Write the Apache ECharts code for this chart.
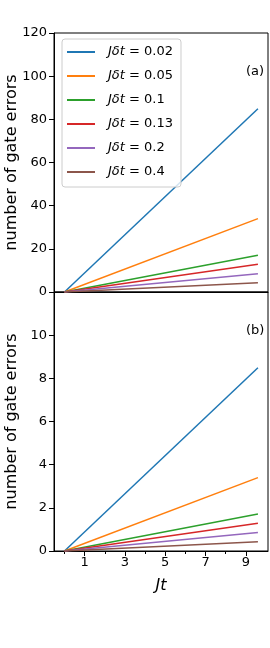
<!DOCTYPE html>
<html><head><meta charset="utf-8">
<script src="https://cdn.jsdelivr.net/npm/echarts@6/dist/echarts.min.js"></script>
<style>html,body{margin:0;padding:0;background:#fff}#c{width:270px;height:648px}</style>
</head><body><div id="c"></div>
<script>
// Data
const jdtLabels = ['0.02', '0.05', '0.1', '0.13', '0.2', '0.4'];
const colors = ['#1f77b4', '#ff7f0e', '#2ca02c', '#d62728', '#9467bd', '#8c564b'];
const xStart = 0;
const xEnd = 9.6;
const topEnd = [84.9, 34.0, 17.0, 12.9, 8.5, 4.3];
const bottomEnd = [8.49, 3.40, 1.71, 1.29, 0.86, 0.43];
const topTicks = [0, 20, 40, 60, 80, 100, 120];
const xMajorTicks = [1, 3, 5, 7, 9];
const xMinorTicks = [0, 2, 4, 6, 8];

const FONT = 'DejaVu Sans';
const chart = echarts.init(document.getElementById('c'), null, {renderer: 'canvas'});

const names = jdtLabels.map(v => 'Jdt=' + v);
const series = [];
jdtLabels.forEach((v, i) => {
  series.push({type: 'line', name: names[i], xAxisIndex: 0, yAxisIndex: 0,
    data: [[xStart, 0], [xEnd, topEnd[i]]], showSymbol: false,
    lineStyle: {color: colors[i], width: 1.5}, itemStyle: {color: colors[i]}, z: 3});
  series.push({type: 'line', name: names[i], xAxisIndex: 1, yAxisIndex: 1,
    data: [[xStart, 0], [xEnd, bottomEnd[i]]], showSymbol: false,
    lineStyle: {color: colors[i], width: 1.5}, itemStyle: {color: colors[i]}, z: 3});
});

const axisLine = {show: true, onZero: false, lineStyle: {color: '#000', width: 1}};
const gridCommon = {left: 54, width: 214, height: 259, show: true, borderColor: '#000', borderWidth: 1,
  backgroundColor: 'transparent', containLabel: false, outerBoundsMode: 'none'};
const xmin = -0.52, xmax = 10.1;

const option = {
  animation: false,
  textStyle: {fontFamily: FONT},
  grid: [
    Object.assign({top: 33}, gridCommon),
    Object.assign({top: 292}, gridCommon)
  ],
  xAxis: [
    {type: 'value', gridIndex: 0, min: xmin, max: xmax, axisLine, axisTick: {show: false}, axisLabel: {show: false}, splitLine: {show: false}},
    {type: 'value', gridIndex: 1, min: xmin, max: xmax, axisLine,
      axisTick: {show: true, customValues: xMajorTicks, length: 5, lineStyle: {color: '#000'}},
      axisLabel: {show: true, customValues: xMajorTicks, color: '#000', fontSize: 13, fontFamily: FONT, margin: 5},
      splitLine: {show: false},
      name: 'Jt', nameLocation: 'middle', nameGap: 27, nameMoveOverlap: false,
      nameTextStyle: {fontSize: 16, fontStyle: 'italic', fontFamily: FONT, color: '#000'}},
    {type: 'value', gridIndex: 1, min: xmin, max: xmax, position: 'bottom', axisLine: {show: false, onZero: false},
      axisTick: {show: true, customValues: xMinorTicks, length: 3, lineStyle: {color: '#000'}},
      axisLabel: {show: false}, splitLine: {show: false}}
  ],
  yAxis: [
    {type: 'value', gridIndex: 0, min: 0, max: 120, interval: 20, axisLine,
      axisTick: {show: true, length: 5, lineStyle: {color: '#000'}},
      axisLabel: {color: '#000', fontSize: 13, fontFamily: FONT, margin: 7, customValues: topTicks},
      splitLine: {show: false},
      name: 'number of gate errors', nameLocation: 'middle', nameGap: 34, nameMoveOverlap: false,
      nameTextStyle: {fontSize: 16, fontFamily: FONT, color: '#000'}},
    {type: 'value', gridIndex: 1, min: 0, max: 12, interval: 2, axisLine,
      axisTick: {show: true, length: 5, lineStyle: {color: '#000'}},
      axisLabel: {color: '#000', fontSize: 13, fontFamily: FONT, margin: 7, showMaxLabel: false},
      splitLine: {show: false},
      name: 'number of gate errors', nameLocation: 'middle', nameGap: 34, nameMoveOverlap: false,
      nameTextStyle: {fontSize: 16, fontFamily: FONT, color: '#000'}}
  ],
  legend: {
    show: true, data: names, orient: 'vertical', left: 62, top: 39,
    icon: 'rect', itemWidth: 28, itemHeight: 2, itemGap: 8,
    padding: [5, 8, 7, 5],
    backgroundColor: 'rgba(255,255,255,0.8)', borderColor: '#ccc', borderWidth: 1, borderRadius: 3,
    formatter: function (n) {
      const v = n.replace('Jdt=', '');
      return '{i|Jδt}{n| = ' + v + '}';
    },
    textStyle: {
      fontFamily: FONT, fontSize: 13, color: '#000', lineHeight: 16,
      rich: {
        i: {fontStyle: 'italic', fontSize: 13, fontFamily: FONT, color: '#000', padding: [0, 0, 0, 8]},
        n: {fontSize: 13, fontFamily: FONT, color: '#000'}
      }
    }
  },
  graphic: [
    {type: 'text', left: 246, top: 65, style: {text: '(a)', font: '13px "DejaVu Sans"', fill: '#000'}},
    {type: 'text', left: 246, top: 324, style: {text: '(b)', font: '13px "DejaVu Sans"', fill: '#000'}}
  ],
  series
};
chart.setOption(option);
</script>
</body></html>
